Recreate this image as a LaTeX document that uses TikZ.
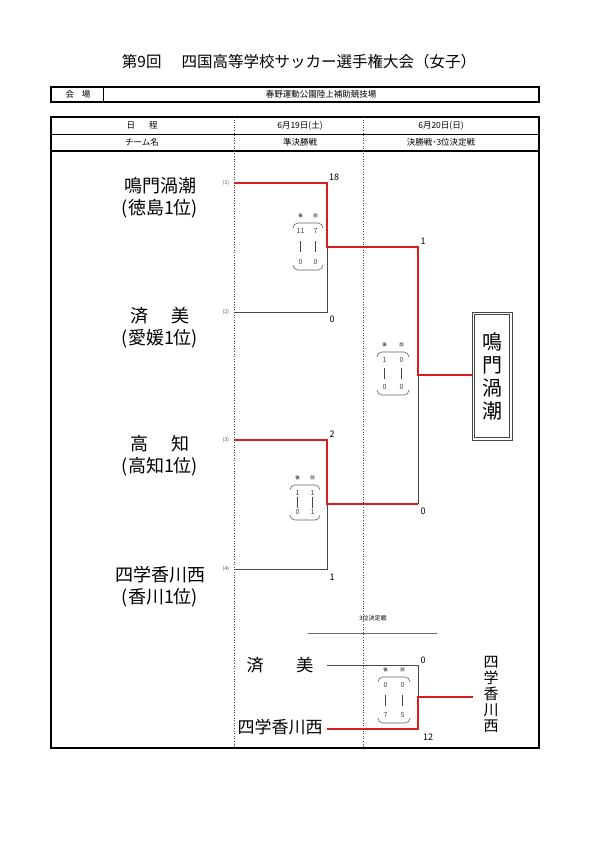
\documentclass[tikz,border=0pt]{standalone}
\usepackage{fontspec}
\setmainfont{Noto Sans CJK JP}
\definecolor{win}{RGB}{222,28,28}
\definecolor{ln}{RGB}{70,70,70}
\tikzset{
 winline/.style={win, line width=2.4pt},
 loseline/.style={ln, line width=0.9pt},
 team/.style={font=\fontsize{18}{22}\selectfont, inner sep=0pt, align=center},
 hdr/.style={font=\fontsize{8.5}{9}\selectfont, inner sep=0pt},
 seed/.style={font=\fontsize{5}{6}\selectfont, text=ln, inner sep=0pt},
 score/.style={font=\fontsize{9}{10}\selectfont, inner sep=0pt},
 half/.style={font=\fontsize{4.5}{5}\selectfont, inner sep=0pt},
 num/.style={font=\fontsize{7}{8}\selectfont, inner sep=0pt, text=ln},
 sbrace/.style={ln!85, line width=0.6pt},
 divider/.style={dotted, line width=0.6pt, ln},
}
% name, xl, xr, yt, yb, a, b, c, d
\newcommand{\scoreblk}[9]{%
 \draw[sbrace] (#2,#4+5) to[out=90,in=180] (#2+5,#4) -- (#3-5,#4) to[out=0,in=90] (#3,#4+5);
 \draw[sbrace] (#2,#5-5) to[out=-90,in=180] (#2+5,#5) -- (#3-5,#5) to[out=0,in=-90] (#3,#5-5);
 \node[half] (#1h) at (#2+7.5,#4-7) {後};
 \node[half] (#1f) at (#3-7.5,#4-7) {前};
 \node[num] (#1a) at (#2+7.5,#4+8) {#6};
 \node[num] (#1b) at (#3-7.5,#4+8) {#7};
 \node[num] (#1c) at (#2+7.5,#5-8) {#8};
 \node[num] (#1d) at (#3-7.5,#5-8) {#9};
 \draw[ln, line width=0.5pt] (#2+7.5,#4/2+#5/2-5.5) -- (#2+7.5,#4/2+#5/2+5.5);
 \draw[ln, line width=0.5pt] (#3-7.5,#4/2+#5/2-5.5) -- (#3-7.5,#4/2+#5/2+5.5);
}
\begin{document}
\begin{tikzpicture}[x=1pt,y=-1pt]
\fill[white] (0,0) rectangle (595,841);
\useasboundingbox (0,0) rectangle (595,841);

% title
\node[inner sep=0pt, font=\fontsize{15.5}{17}\selectfont] (title) at (299,62) {第9回\hspace{20pt}四国高等学校サッカー選手権大会（女子）};

% venue row
\draw[line width=1.2pt] (51,87) rectangle (539,102);
\draw[line width=0.6pt] (103,87) -- (103,102);
\node[hdr] (venuel) at (78,94.5) {会\hspace{8pt}場};
\node[hdr] (venue) at (321,94.5) {春野運動公園陸上補助競技場};

% main table
\draw[line width=1.6pt] (51,117) rectangle (539,748);
\draw[line width=0.5pt] (51,134) -- (539,134);
\draw[line width=1.4pt] (51,151) -- (539,151);
\draw[divider] (234,117) -- (234,748);
\draw[divider] (363,117) -- (363,748);
\node[hdr] (h1) at (142,125.5) {日\hspace{14pt}程};
\node[hdr] (h2) at (300,125.5) {6月19日(土)};
\node[hdr] (h3) at (441,125.5) {6月20日(日)};
\node[hdr] (h4) at (142,142.5) {チーム名};
\node[hdr] (h5) at (300,142.5) {準決勝戦};
\node[hdr] (h6) at (441,142.5) {決勝戦･3位決定戦};

% teams
\node[team] (t1) at (160,198) {鳴門渦潮\\(徳島1位)};
\node[team] (t2) at (160,327.5) {済\hspace{24pt}美\\(愛媛1位)};
\node[team] (t3) at (160,455.5) {高\hspace{24pt}知\\(高知1位)};
\node[team] (t4) at (160,586.5) {四学香川西\\(香川1位)};

% seeds
\node[seed] (sd1) at (226,183) {(1)};
\node[seed] (sd2) at (226,312) {(2)};
\node[seed] (sd3) at (226,440) {(3)};
\node[seed] (sd4) at (226,569) {(4)};

% bracket points
\coordinate (s1) at (234,183); \coordinate (m1) at (327,183);
\coordinate (s2) at (234,312); \coordinate (m2) at (327,312);
\coordinate (j1) at (327,247);
\coordinate (s3) at (234,440); \coordinate (m3) at (327,440);
\coordinate (s4) at (234,569); \coordinate (m4) at (327,569);
\coordinate (j2) at (327,504);
\coordinate (f1) at (418,247); \coordinate (fm) at (418,375); \coordinate (f2) at (418,504);

% champion box
\node[draw=ln, line width=0.8pt, minimum width=40pt, minimum height=128pt, inner sep=0pt] (champ) at (492,376) {};
\draw[ln, line width=0.6pt] ([shift={(3,3)}]champ.north west) rectangle ([shift={(-3,-3)}]champ.south east);
\node[inner sep=0pt, font=\fontsize{20}{23}\selectfont, align=center] (champt) at (492,376) {鳴\\門\\渦\\潮};

% lines: losers first
\draw[loseline] (s2) -- (m2) -- (j1);
\draw[loseline] (s4) -- (m4) -- (j2);
\draw[loseline] (fm) -- (f2);
\draw[winline] (s1) -- (m1) -- (j1) -- (f1) -- (fm) -- (fm -| champ.west);
\draw[winline] (s3) -- (m3) -- (j2) -- (f2);

% scores
\node[score] (sc1) at (334,177) {18};
\node[score] (sc2) at (332,319) {0};
\node[score] (sc3) at (332,434) {2};
\node[score] (sc4) at (332,577) {1};
\node[score] (sc5) at (423,241) {1};
\node[score] (sc6) at (423,511) {0};

\scoreblk{bA}{293}{323}{223}{270}{11}{7}{0}{0}
\scoreblk{bB}{290}{320}{485}{520}{1}{1}{0}{1}
\scoreblk{bC}{377}{409}{352}{395}{1}{0}{0}{0}

% third place
\node[font=\fontsize{6}{7}\selectfont, inner sep=0pt] (tp) at (373,618) {3位決定戦};
\draw[ln!80, line width=0.5pt] (308,633) -- (437,633);
\node[inner sep=0pt, font=\fontsize{17}{19}\selectfont] (tpa) at (280,665) {済\hspace{33pt}美};
\node[inner sep=0pt, font=\fontsize{17}{19}\selectfont] (tpb) at (280,727) {四学香川西};
\node[inner sep=0pt, font=\fontsize{15}{16}\selectfont, align=center] (tpw) at (491,694.5) {四\\学\\香\\川\\西};
\coordinate (ta) at (327,665); \coordinate (tam) at (418,665);
\coordinate (tb) at (327,729); \coordinate (tbm) at (418,729);
\coordinate (tj) at (418,697); \coordinate (tw) at (473,697);
\draw[loseline] (ta) -- (tam) -- (tj);
\draw[winline] (tb) -- (tbm) -- (tj) -- (tw);
\node[score] (sc7) at (423,660) {0};
\node[score] (sc8) at (428,737) {12};
\scoreblk{bD}{378}{410}{677}{723}{0}{0}{7}{5}
\end{tikzpicture}
\end{document}
